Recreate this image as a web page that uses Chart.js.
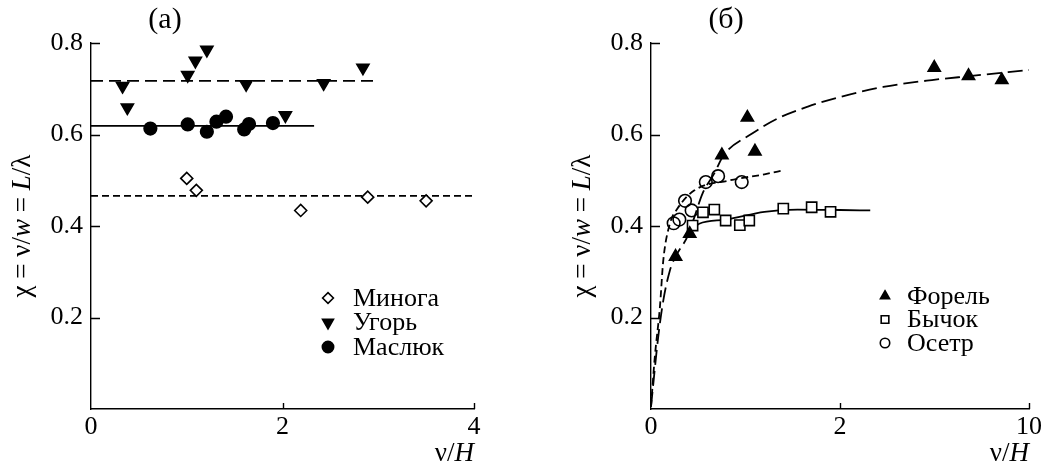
<!DOCTYPE html>
<html>
<head>
<meta charset="utf-8">
<script src="https://cdn.jsdelivr.net/npm/chart.js@4/dist/chart.umd.min.js"></script>
<style>
  html, body { margin: 0; padding: 0; background: #fff; }
  #wrap { position: relative; width: 1045px; height: 467px; }
  canvas { position: absolute; top: 0; }
  #chartA { left: 0; }
  #chartB { left: 522px; }
</style>
</head>
<body>
<div id="wrap">
  <canvas id="chartA" width="522" height="467"></canvas>
  <canvas id="chartB" width="523" height="467"></canvas>
</div>
<script>
// ---- panel (а) ----
const minogaX = [1.00, 1.10, 2.19, 2.89, 3.50];
const minogaY = [0.504, 0.478, 0.434, 0.463, 0.455];
const ugorX = [0.33, 0.38, 1.01, 1.09, 1.21, 1.62, 2.03, 2.43, 2.84];
const ugorY = [0.706, 0.659, 0.730, 0.761, 0.785, 0.710, 0.642, 0.712, 0.746];
const maslukX = [0.62, 1.01, 1.21, 1.31, 1.41, 1.60, 1.65, 1.90];
const maslukY = [0.613, 0.622, 0.606, 0.628, 0.639, 0.611, 0.623, 0.625];

// mean levels (start, end)
const minogaFitX = [0, 3.98];
const minogaFitY = [0.466, 0.466];
const ugorFitX = [0, 2.95];
const ugorFitY = [0.717, 0.717];
const maslukFitX = [0, 2.33];
const maslukFitY = [0.619, 0.619];

// ---- panel (б) ----
const forelX = [0.26, 0.41, 0.75, 1.02, 1.10, 5.99, 7.44, 8.85];
const forelY = [0.333, 0.383, 0.555, 0.637, 0.563, 0.746, 0.728, 0.719];
const bychokX = [0.44, 0.55, 0.67, 0.79, 0.94, 1.04, 1.40, 1.70, 1.90];
const bychokY = [0.401, 0.430, 0.436, 0.412, 0.402, 0.412, 0.438, 0.441, 0.431];
const osetrX = [0.24, 0.30, 0.36, 0.43, 0.58, 0.71, 0.96];
const osetrY = [0.406, 0.414, 0.455, 0.434, 0.496, 0.509, 0.496];

// fitted curves
const forelFitX = [0, 0.076, 0.13, 0.2, 0.26, 0.39, 0.46, 0.545, 0.67, 0.77, 1.07, 1.34, 1.66, 2.0, 3.83, 5.89, 7.57, 10];
const forelFitY = [0.005, 0.157, 0.237, 0.303, 0.333, 0.379, 0.42, 0.471, 0.515, 0.555, 0.602, 0.635, 0.661, 0.682, 0.704, 0.719, 0.728, 0.741];
const osetrFitX = [0, 0.04, 0.094, 0.13, 0.2, 0.28, 0.46, 0.84, 1.2, 1.41];
const osetrFitY = [0.005, 0.113, 0.222, 0.325, 0.405, 0.438, 0.478, 0.500, 0.513, 0.522];
const bychokFitX = [0.41, 0.51, 0.79, 1.2, 1.55, 2.0, 3.28];
const bychokFitY = [0.387, 0.405, 0.414, 0.431, 0.436, 0.435, 0.434];

// ticks
const yTicks = [0.2, 0.4, 0.6, 0.8];
const xTicksA = [0, 2, 4];
const xTicksB = [0, 2, 10];

// texts
const labelA = '(а)';
const labelB = '(б)';
const yTitle = [{t: 'χ = ν/', i: false}, {t: 'w', i: true}, {t: ' = ', i: false}, {t: 'L', i: true}, {t: '/λ', i: false}];
const xTitle = [{t: 'ν/', i: false}, {t: 'H', i: true}];

const FONT = '"Liberation Serif", "Times New Roman", serif';
const INK = '#000';

// right panel: 0..2 linear, 2..10 squeezed into the same width
const toAxisB = x => (x <= 2 ? x : 2 + (x - 2) / 4);

const pts = (xs, ys, f) => xs.map((x, i) => ({x: f ? f(x) : x, y: ys[i]}));

function drawRich(ctx, parts, x, y, align, size) {
    const fontFor = p => (p.i ? 'italic ' : '') + size + 'px ' + FONT;
    let total = 0;
    parts.forEach(p => { ctx.font = fontFor(p); total += ctx.measureText(p.t).width; });
    let cx = align === 'right' ? x - total : align === 'center' ? x - total / 2 : x;
    ctx.textAlign = 'left';
    parts.forEach(p => {
        ctx.font = fontFor(p);
        ctx.fillText(p.t, cx, y);
        cx += ctx.measureText(p.t).width;
    });
}

// inward tick marks, titles and the legend
const decor = {
    id: 'decor',
    afterDraw(chart, args, opts) {
        const ctx = chart.ctx;
        const xs = chart.scales.x, ys = chart.scales.y;
        const area = chart.chartArea;
        ctx.save();
        ctx.strokeStyle = INK;
        ctx.lineWidth = 1.4;
        ctx.beginPath();
        xs.ticks.forEach(t => {
            if (t.value === xs.min) return;
            const px = Math.round(xs.getPixelForValue(t.value)) + 0.5;
            ctx.moveTo(px, area.bottom);
            ctx.lineTo(px, area.bottom - 6);
        });
        ys.ticks.forEach(t => {
            const py = Math.round(ys.getPixelForValue(t.value)) + 0.5;
            ctx.moveTo(area.left, py);
            ctx.lineTo(area.left + 9, py);
        });
        ctx.stroke();

        ctx.fillStyle = INK;
        ctx.textBaseline = 'middle';
        // y title
        ctx.save();
        ctx.translate(opts.yTitleX, (area.top + area.bottom) / 2);
        ctx.rotate(-Math.PI / 2);
        drawRich(ctx, yTitle, 0, 0, 'center', 27);
        ctx.restore();
        // x title
        ctx.textBaseline = 'alphabetic';
        drawRich(ctx, xTitle, area.right, 461, 'right', 27);
        // panel label
        ctx.font = '30px ' + FONT;
        ctx.textAlign = 'center';
        ctx.textBaseline = 'middle';
        ctx.fillText(opts.panel, opts.panelX, 20);

        // legend
        const items = chart.data.datasets.filter(d => d.label);
        items.forEach((d, i) => {
            const y = opts.legY + i * opts.legStep;
            ctx.fillStyle = d.backgroundColor;
            ctx.strokeStyle = INK;
            ctx.lineWidth = 1.6;
            Chart.helpers.drawPoint(ctx, {
                pointStyle: d.pointStyle,
                rotation: d.rotation || 0,
                radius: d.pointRadius * opts.legScale,
                borderWidth: 1.6
            }, opts.legX, y);
            ctx.fillStyle = INK;
            ctx.font = '26px ' + FONT;
            ctx.textAlign = 'left';
            ctx.textBaseline = 'middle';
            ctx.fillText(d.label, opts.legTextX, y + 1);
        });
        ctx.restore();
    }
};

function markers(label, data, style, radius, fill, rotation) {
    return {
        label: label,
        data: data,
        pointStyle: style,
        pointRadius: radius,
        rotation: rotation || 0,
        backgroundColor: fill,
        borderColor: INK,
        borderWidth: 1.6,
        showLine: false,
        order: 1
    };
}

function fitLine(data, dash) {
    return {
        data: data,
        showLine: true,
        pointRadius: 0,
        borderColor: INK,
        borderWidth: 1.8,
        borderDash: dash,
        cubicInterpolationMode: 'monotone',
        fill: false,
        order: 2
    };
}

function scalesFor(xMax, xTicks, xLabels, yWidth) {
    return {
        x: {
            type: 'linear', min: 0, max: xMax,
            afterBuildTicks: s => { s.ticks = xTicks.map(v => ({value: v})); },
            afterFit: s => { s.height = 58; },
            grid: {display: false, drawTicks: false},
            border: {display: true, color: INK, width: 1.4},
            ticks: {
                color: INK, padding: 3, maxRotation: 0,
                font: {family: FONT, size: 26},
                callback: (v) => xLabels[xTicks.indexOf(v)]
            }
        },
        y: {
            type: 'linear', min: 0, max: 0.8,
            afterBuildTicks: s => { s.ticks = yTicks.map(v => ({value: v})); },
            afterFit: s => { s.width = yWidth; },
            grid: {display: false, drawTicks: false},
            border: {display: true, color: INK, width: 1.4},
            ticks: {
                color: INK, padding: 8,
                font: {family: FONT, size: 26},
                callback: v => v.toFixed(1)
            }
        }
    };
}

const common = {
    responsive: false,
    animation: false,
    plugins: {legend: {display: false}, tooltip: {enabled: false}}
};

new Chart(document.getElementById('chartA'), {
    type: 'scatter',
    data: {
        datasets: [
            markers('Минога', pts(minogaX, minogaY), 'rectRot', 6, '#fff'),
            markers('Угорь', pts(ugorX, ugorY), 'triangle', 7, INK, 180),
            markers('Маслюк', pts(maslukX, maslukY), 'circle', 6.3, INK),
            fitLine(pts(ugorFitX, ugorFitY), [12, 6]),
            fitLine(pts(maslukFitX, maslukFitY), []),
            fitLine(pts(minogaFitX, minogaFitY), [7, 4])
        ]
    },
    options: Object.assign({}, common, {
        layout: {padding: {top: 43, right: 48, left: 0, bottom: 0}},
        scales: scalesFor(4, [0, 2, 4], xTicksA.map(String), 91),
        plugins: Object.assign({}, common.plugins, {
            decor: {yTitleX: 23, panel: labelA, panelX: 165,
                    legX: 328, legTextX: 353, legY: 298, legStep: 24.5, legScale: 0.9}
        })
    }),
    plugins: [decor]
});

new Chart(document.getElementById('chartB'), {
    type: 'scatter',
    data: {
        datasets: [
            markers('Форель', pts(forelX, forelY, toAxisB), 'triangle', 7, INK),
            markers('Бычок', pts(bychokX, bychokY, toAxisB), 'rect', 7.2, '#fff'),
            markers('Осетр', pts(osetrX, osetrY, toAxisB), 'circle', 6.3, 'rgba(0,0,0,0)'),
            fitLine(pts(forelFitX, forelFitY, toAxisB), [15, 6]),
            fitLine(pts(osetrFitX, osetrFitY, toAxisB), [7, 4]),
            fitLine(pts(bychokFitX, bychokFitY, toAxisB), [])
        ]
    },
    options: Object.assign({}, common, {
        layout: {padding: {top: 43, right: 12, left: 0, bottom: 0}},
        scales: scalesFor(4, xTicksB.map(toAxisB), xTicksB.map(String), 129),
        plugins: Object.assign({}, common.plugins, {
            decor: {yTitleX: 61, panel: labelB, panelX: 204,
                    legX: 363, legTextX: 385, legY: 296, legStep: 23.5, legScale: 0.75}
        })
    }),
    plugins: [decor]
});
</script>
</body>
</html>
